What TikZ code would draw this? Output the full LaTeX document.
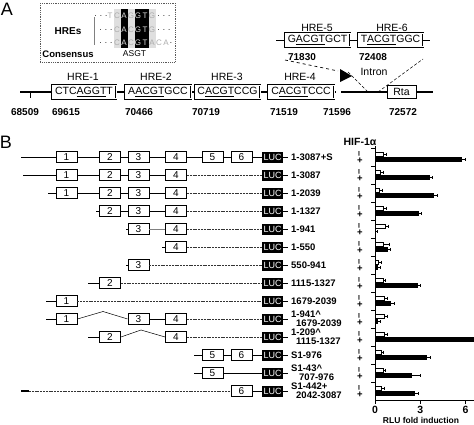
\documentclass[tikz,border=0pt]{standalone}
\usepackage{fontspec}
\setmainfont{Liberation Sans}
\newcommand{\hul}[1]{\leavevmode\setbox0=\hbox{#1}\rlap{\vrule width\wd0 height -1.1pt depth 2.4pt}\box0}
\begin{document}
\begin{tikzpicture}[x=1pt,y=-1pt,
  every node/.style={inner sep=0pt},
  hre/.style={draw, double, double distance=0.9pt, line width=0.55pt, fill=white, minimum height=13.5pt, font=\fontsize{10.5}{10.5}\selectfont},
  hlab/.style={font=\fontsize{10.5}{10.5}\selectfont},
  num/.style={font=\fontsize{10}{10}\selectfont\bfseries},
  sq/.style={font=\fontsize{8}{8}\selectfont, text=gray!65},
  sqw/.style={font=\fontsize{8}{8}\selectfont, text=gray!25},
  dots/.style={font=\fontsize{8}{8}\selectfont},
  exon/.style={draw, line width=0.8pt, fill=white, minimum width=21pt, minimum height=11pt, font=\fontsize{10}{10}\selectfont},
  luc/.style={fill=black, text=white, minimum width=21pt, minimum height=11pt, font=\fontsize{9}{9}\selectfont},
  lab/.style={anchor=west, align=left, font=\fontsize{9.5}{9}\selectfont\bfseries},
  conn/.style={line width=0.8pt},
  dconn/.style={line width=0.6pt, black!80, dash pattern=on 2pt off 0.8pt},
  pm/.style={font=\fontsize{9.5}{9.5}\selectfont\bfseries}
]
\useasboundingbox (0,0) rectangle (474,424);

% ---------------- Panel A ----------------
\node[font=\fontsize{18}{18}\selectfont] (pa) at (7,9) {A};

% inset
\draw[densely dotted, line width=0.8pt, gray!70!black] (40,3) rectangle (175,62);
\fill[gray!25] (113.5,9) rectangle (155.5,48);
\fill[black] (120.5,9) rectangle (127.5,48);
\fill[black] (134.5,9) rectangle (148.5,48);
\node[font=\fontsize{10}{10}\selectfont\bfseries] (hres) at (68,31) {HREs};
\draw[gray, line width=1pt] (94,17) -- (94,45);
\node[font=\fontsize{9.5}{9.5}\selectfont\bfseries] (cons) at (68,54) {Consensus};
% row 1
\node[dots] (d1a) at (101,16) {. . .};
\foreach \c/\x/\s [count=\i] in {T/110/sq,C/117/sq,A/124/sqw,G/131/sq,G/138/sqw,T/145/sqw,G/152/sq}
  \node[\s] (sa\i) at (\x,16) {\c};
\node[dots] (d1b) at (164,16) {. . .};
% row 2
\node[dots] (d2a) at (106,30) {. . .};
\foreach \c/\x/\s [count=\i] in {C/117/sq,A/124/sqw,C/131/sq,G/138/sqw,T/145/sqw,G/152/sq}
  \node[\s] (sb\i) at (\x,30) {\c};
\node[dots] (d2b) at (164,30) {. . .};
% row 3
\node[dots] (d3a) at (106,43) {. . .};
\foreach \c/\x/\s [count=\i] in {C/117/sq,A/124/sqw,C/131/sq,G/138/sqw,T/145/sqw,A/152/sq,C/159/sq,A/166/sq}
  \node[\s] (sc\i) at (\x,43) {\c};
\node[dots] (d3b) at (171,43) {.};
\node[font=\fontsize{8.5}{8.5}\selectfont] (asgt) at (134.5,54) {ASGT};

% main line
\coordinate (ls) at (20,92);
\coordinate (le) at (433,92);
\draw[line width=1.2pt] (ls) -- (le);
\coordinate (tk1) at (30,92);
\coordinate (tk2) at (30,98);
\draw[line width=0.8pt] (tk1) -- (tk2);

\node[hre, minimum width=64pt] (h1) at (84,92) {CTC\hul{AGGT}T};
\node[hre, minimum width=66pt] (h2) at (158,92) {A\hul{ACGT}GCC};
\node[hre, minimum width=65pt] (h3) at (227.5,92) {C\hul{ACGT}CCG};
\node[hre, minimum width=66pt] (h4) at (301,92) {C\hul{ACGT}CCC};
\node[hlab] (l1) at (83,77) {HRE-1};
\node[hlab] (l2) at (156,77) {HRE-2};
\node[hlab] (l3) at (227,77) {HRE-3};
\node[hlab] (l4) at (300,77) {HRE-4};

% TSS
\node[draw, double, double distance=0.7pt, line width=0.4pt, fill=white, minimum width=4pt, minimum height=25pt] (tss) at (338.5,88) {};
\coordinate (fl1) at (340,69);
\coordinate (fl2) at (352,76);
\coordinate (fl3) at (340,82);
\fill (fl1) -- (fl2) -- (fl3) -- cycle;

\node[draw, line width=0.8pt, fill=white, minimum width=29pt, minimum height=13pt, font=\fontsize{10.5}{10.5}\selectfont] (rta) at (401.5,91.5) {Rta};

% HRE-5 / HRE-6
\node[hre, minimum width=65pt] (h5) at (317.5,40) {G\hul{ACGT}GCT};
\node[hre, minimum width=65pt] (h6) at (390.5,40) {T\hul{ACGT}GGC};
\coordinate (h5s) at (276,40);
\coordinate (h6e) at (430,40);
\draw[line width=0.8pt] (h5s) -- (h5) (h5) -- (h6) (h6) -- (h6e);
\node[hlab] (l5) at (317,28) {HRE-5};
\node[hlab] (l6) at (392,28) {HRE-6};
\node[num] (n7) at (302,57) {71830};
\node[num] (n8) at (373,57) {72408};

% intron
\coordinate (i1) at (285,60);
\coordinate (i2) at (338,71);
\coordinate (i3) at (348,72);
\coordinate (i4) at (368,92);
\coordinate (i5) at (378,92);
\coordinate (i6) at (423,59);
\draw[dashed, line width=0.7pt] (i1) -- (i2);
\draw[densely dashed, line width=0.6pt] (i3) -- (i4);
\draw[densely dashed, line width=0.5pt] (i5) -- (i6);
\node[font=\fontsize{10.5}{10.5}\selectfont] (intr) at (374,72) {Intron};

% coordinates
\node[num] (n1) at (25,112) {68509};
\node[num] (n2) at (66,112) {69615};
\node[num] (n3) at (139,112) {70466};
\node[num] (n4) at (206,112) {70719};
\node[num] (n5) at (284,112) {71519};
\node[num] (n6) at (337,112) {71596};
\node[num] (n9) at (403,112) {72572};

% ---------------- Panel B ----------------
\node[font=\fontsize{18}{18}\selectfont] (pb) at (6,142) {B};
\node[font=\fontsize{10.5}{10.5}\selectfont\bfseries] (hif) at (360,142) {HIF-1α};

% row 1
\node[exon] (a1) at (66.5,157) {1};
\node[exon] (a2) at (110,157) {2};
\node[exon] (a3) at (138.5,157) {3};
\node[exon] (a4) at (176,157) {4};
\node[exon] (a5) at (212.5,157) {5};
\node[exon] (a6) at (241.5,157) {6};
\node[luc] (aL) at (272.5,157) {LUC};
\coordinate (a0) at (21,157);
\draw[conn] (a0)--(a1) (a1)--(a2) (a2)--(a3) (a3)--(a4) (a4)--(a5) (a5)--(a6) (a6)--(aL);
% row 2
\node[exon] (b1) at (66.5,175) {1};
\node[exon] (b2) at (110,175) {2};
\node[exon] (b3) at (138.5,175) {3};
\node[exon] (b4) at (176,175) {4};
\node[luc] (bL) at (272.5,175) {LUC};
\coordinate (b0) at (23,175);
\draw[conn] (b0)--(b1) (b1)--(b2) (b2)--(b3) (b3)--(b4);
\draw[dconn] (b4)--(bL);
% row 3
\node[exon] (c1) at (66.5,193) {1};
\node[exon] (c2) at (110,193) {2};
\node[exon] (c3) at (138.5,193) {3};
\node[exon] (c4) at (176,193) {4};
\node[luc] (cL) at (272.5,193) {LUC};
\coordinate (c0) at (48,193);
\draw[conn] (c0)--(c1) (c1)--(c2) (c2)--(c3) (c3)--(c4);
\draw[dconn] (c4)--(cL);
% row 4
\node[exon] (d2) at (110,211) {2};
\node[exon] (d3) at (138.5,211) {3};
\node[exon] (d4) at (176,211) {4};
\node[luc] (dL) at (272.5,211) {LUC};
\coordinate (d0) at (96,211);
\draw[conn] (d0)--(d2) (d2)--(d3) (d3)--(d4);
\draw[dconn] (d4)--(dL);
% row 5
\node[exon] (e3) at (138.5,229) {3};
\node[exon] (e4) at (176,229) {4};
\node[luc] (eL) at (272.5,229) {LUC};
\coordinate (e0) at (126,229);
\draw[conn] (e0)--(e3);
\draw[line width=0.5pt, gray] (e3)--(e4);
\draw[dconn] (e4)--(eL);
% row 6
\node[exon] (f4) at (176,247) {4};
\node[luc] (fL) at (272.5,247) {LUC};
\coordinate (f0) at (162,247);
\draw[conn] (f0)--(f4);
\draw[dconn] (f4)--(fL);
% row 7
\node[exon] (g3) at (138.5,265) {3};
\node[luc] (gL) at (272.5,265) {LUC};
\coordinate (g0) at (126,265);
\draw[conn] (g0)--(g3);
\draw[dconn] (g3)--(gL);
% row 8
\node[exon] (h2b) at (110,283) {2};
\node[luc] (hL) at (272.5,283) {LUC};
\coordinate (hh0) at (88,283);
\draw[conn] (hh0)--(h2b);
\draw[dconn] (h2b)--(hL);
% row 9
\node[exon] (k1) at (66.5,301) {1};
\node[luc] (kL) at (272.5,301) {LUC};
\coordinate (k0) at (46,301);
\draw[conn] (k0)--(k1);
\draw[dconn] (k1)--(kL);
% row 10
\node[exon] (m1) at (66.5,319) {1};
\node[exon] (m3) at (138.5,319) {3};
\node[exon] (m4) at (176,319) {4};
\node[luc] (mL) at (272.5,319) {LUC};
\coordinate (m0) at (46,319);
\coordinate (mp) at (103,311.5);
\draw[conn] (m0)--(m1) (m3)--(m4);
\draw[line width=0.5pt] (m1.east)--(mp)--(m3.west);
\draw[dconn] (m4)--(mL);
% row 11
\node[exon] (p2) at (110,337) {2};
\node[exon] (p4) at (176,337) {4};
\node[luc] (pL) at (272.5,337) {LUC};
\coordinate (p0) at (88,337);
\coordinate (pp) at (141,330);
\draw[conn] (p0)--(p2);
\draw[line width=0.5pt] (p2.east)--(pp)--(p4.west);
\draw[dconn] (p4)--(pL);
% row 12
\node[exon] (q5) at (212.5,355) {5};
\node[exon] (q6) at (241.5,355) {6};
\node[luc] (qL) at (272.5,355) {LUC};
\coordinate (q0) at (194,355);
\draw[conn] (q0)--(q5) (q5)--(q6) (q6)--(qL);
% row 13
\node[exon] (r5) at (212.5,373) {5};
\node[luc] (rL) at (272.5,373) {LUC};
\coordinate (r0) at (194,373);
\draw[conn] (r0)--(r5) (r5)--(rL);
% row 14
\node[exon] (s6) at (241.5,391) {6};
\node[luc] (sL) at (272.5,391) {LUC};
\coordinate (s0) at (21,391);
\coordinate (s1) at (29,391);
\draw[line width=1.2pt] (s0)--(s1);
\draw[dconn] (s1)--(s6);
\draw[conn] (s6)--(sL);

% stubs after LUC
\foreach \n in {a,b,c,d,e,f,g,h,k,m,p,q,r,s}
  \draw[conn] (\n L.east) -- ++(5,0);

% labels
\foreach \y/\t [count=\i] in {157/{1-3087+S},175/{1-3087},193/{1-2039},211/{1-1327},229/{1-941},247/{1-550},265/{550-941},283/{1115-1327},301/{1679-2039},319/{1-941\textasciicircum\\\hspace*{5pt}1679-2039},337/{1-209\textasciicircum\\\hspace*{5pt}1115-1327},355/{S1-976},373/{S1-43\textasciicircum\\\hspace*{8pt}707-976},391/{S1-442+\\\hspace*{5pt}2042-3087}}
  \node[lab] (lab\i) at (291,\y) {\t};

% minus / plus
\foreach \y [count=\i] in {157,175,193,211,229,247,265,283,301,319,337,355,373,391} {
  \node[pm, rotate=90] (mi\i) at (360,\y-3) {–};
  \node[pm] (pl\i) at (360,\y+3.5) {+};
}

% bar chart
\foreach \y/\w/\we/\b/\be in {157/383/386/462/465, 175/380/383/430/432, 193/379/382/434/437, 211/383/386/419/421, 229/385/388/376/377, 247/383/389/388/390, 265/378/381/378/380, 283/383/385/418/420, 301/384/387/391/394, 319/384/387/378/380, 337/384/387/478/480, 355/381/383/427/430, 373/383/385/412/420, 391/381/384/415/418} {
  \draw[line width=0.6pt, fill=white] (375,\y-5) rectangle (\w,\y-1);
  \draw[line width=0.5pt] (\w,\y-3) -- (\we,\y-3) (\we,\y-4.5) -- (\we,\y-1.5);
  \fill (375,\y) rectangle (\b,\y+5);
  \draw[line width=0.5pt] (\b,\y+2.5) -- (\be,\y+2.5) (\be,\y+1) -- (\be,\y+4);
}
\draw[line width=0.9pt] (375,146) -- (375,400) -- (474,400);
\foreach \y in {148,166,184,202,220,238,256,274,292,310,328,346,364,382}
  \draw[line width=0.6pt] (371,\y) -- (375,\y);
\foreach \x/\t in {375/0,420.3/3,465.6/6} {
  \draw[line width=0.6pt] (\x,400) -- (\x,404);
  \node[font=\fontsize{10.5}{10.5}\selectfont\bfseries] (xt\t) at (\x,410) {\t};
}
\node[font=\fontsize{8.5}{8.5}\selectfont\bfseries] (xlab) at (421,420) {RLU fold induction};
\end{tikzpicture}
\end{document}
